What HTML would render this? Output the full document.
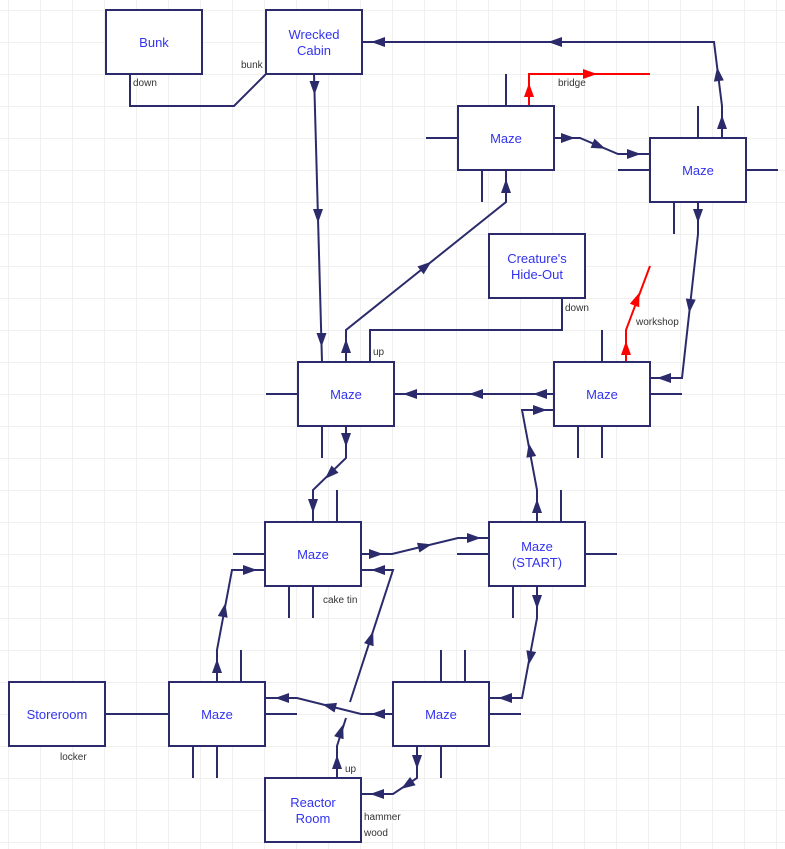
<!DOCTYPE html><html><head><meta charset="utf-8"><style>
body{margin:0;background:#fff}
svg{display:block}
text{font-family:"Liberation Sans",Arial,sans-serif}
.t{fill:#3333ee;font-size:13px;text-anchor:middle}
.s{fill:#333;font-size:10px}
</style></head><body>
<svg id="g" width="785" height="849" xmlns="http://www.w3.org/2000/svg"></svg>
<script>
const g=document.getElementById('g');let h='';
for(let x=8;x<785;x+=32)h+=`<line x1="${x+.5}" y1="0" x2="${x+.5}" y2="849" stroke="#f0f0f0"/>`;
for(let y=10;y<849;y+=32)h+=`<line x1="0" y1="${y+.5}" x2="785" y2="${y+.5}" stroke="#f0f0f0"/>`;
const C='#2b2b6b',R='#ff0000';
function pl(p,c){h+=`<polyline points="${p.map(a=>a.join(',')).join(' ')}" fill="none" stroke="${c||C}" stroke-width="2"/>`}
function ar(x,y,dx,dy,c){const l=Math.hypot(dx,dy);dx/=l;dy/=l;const nx=-dy,ny=dx,L=14,W=5;
h+=`<polygon points="${x+dx*L/2},${y+dy*L/2} ${x-dx*L/2+nx*W},${y-dy*L/2+ny*W} ${x-dx*L/2-nx*W},${y-dy*L/2-ny*W}" fill="${c||C}"/>`}
function box(x,y,lines){h+=`<rect x="${x}" y="${y}" width="96" height="64" fill="#fff" stroke="${C}" stroke-width="2"/>`;
const n=lines.length;lines.forEach((t,i)=>{h+=`<text class="t" x="${x+48}" y="${y+37-(n-1)*8+i*16}">${t}</text>`})}
function tx(x,y,t){h+=`<text class="s" x="${x}" y="${y}">${t}</text>`}
[[426,138,458,138],[506,74,506,106],[482,170,482,202],[618,170,650,170],[746,170,778,170],[698,106,698,138],[674,202,674,234],
[266,394,298,394],[322,426,322,458],[602,330,602,362],[650,394,682,394],[578,426,578,458],[602,426,602,458],
[233,554,265,554],[337,490,337,522],[289,586,289,618],[313,586,313,618],[457,554,489,554],[585,554,617,554],[561,490,561,522],[513,586,513,618],
[265,714,297,714],[241,650,241,682],[193,746,193,778],[217,746,217,778],[489,714,521,714],[441,650,441,682],[465,650,465,682],[441,746,441,778],[105,714,169,714]
].forEach(a=>pl([[a[0],a[1]],[a[2],a[3]]]));
pl([[266,74],[234,106],[130,106],[130,74]]);
pl([[314,74],[322,362]]);ar(314.5,88,0,1);ar(318,216,0,1);ar(321.5,340,0,1);
pl([[722,138],[722,106],[714,42],[362,42]]);ar(722,122,0,-1);ar(718,74,-1,-8);ar(555,42,-1,0);ar(378,42,-1,0);
pl([[554,138],[580,138],[618,154],[650,154]]);ar(568,138,1,0);ar(599,146,38,16);ar(634,154,1,0);
pl([[529,106],[529,74],[650,74]],R);ar(529,90,0,-1,R);ar(590,74,1,0,R);
pl([[346,362],[346,330],[506,202],[506,170]]);ar(346,346,0,-1);ar(426,266,160,-128);ar(506,186,0,-1);
pl([[562,298],[562,330],[370,330],[370,362]]);
pl([[698,202],[698,234],[682,378],[650,378]]);ar(698,216,0,1);ar(690,306,-16,144);ar(664,378,-1,0);
pl([[626,362],[626,330],[650,266]],R);ar(626,348,0,-1,R);ar(637,299,24,-64,R);
pl([[554,394],[394,394]]);ar(540,394,-1,0);ar(476,394,-1,0);ar(410,394,-1,0);
pl([[537,522],[537,490],[522,410],[554,410]]);ar(537,506,0,-1);ar(530,450,-15,-80);ar(540,410,1,0);
pl([[346,426],[346,458],[313,490],[313,522]]);ar(346,440,0,1);ar(330,474,-33,32);ar(313,506,0,1);
pl([[361,554],[392,554],[458,538],[489,538]]);ar(376,554,1,0);ar(425,546,66,-16);ar(474,538,1,0);
pl([[217,682],[217,650],[232,570],[265,570]]);ar(217,666,0,-1);ar(224,610,15,-80);ar(250,570,1,0);
pl([[337,778],[337,746],[346,718]]);pl([[350,702],[393,570],[361,570]]);ar(337,762,0,-1);ar(341,731,9,-28);ar(371,638,43,-132);ar(378,570,-1,0);
pl([[393,714],[361,714],[297,698],[265,698]]);ar(378,714,-1,0);ar(329,706,-64,-16);ar(282,698,-1,0);
pl([[537,586],[537,618],[522,698],[489,698]]);ar(537,602,0,1);ar(530,658,-15,80);ar(505,698,-1,0);
pl([[417,746],[417,778],[393,794],[361,794]]);ar(417,762,0,1);ar(407,785,-24,16);ar(377,794,-1,0);
box(106,10,['Bunk']);box(266,10,['Wrecked','Cabin']);box(458,106,['Maze']);box(650,138,['Maze']);
box(489,234,["Creature's",'Hide-Out']);box(298,362,['Maze']);box(554,362,['Maze']);
box(265,522,['Maze']);box(489,522,['Maze','(START)']);box(9,682,['Storeroom']);box(169,682,['Maze']);box(393,682,['Maze']);box(265,778,['Reactor','Room']);
tx(241,68,'bunk');tx(133,86,'down');tx(558,86,'bridge');tx(565,311,'down');tx(373,355,'up');tx(636,325,'workshop');
tx(323,603,'cake tin');tx(60,760,'locker');tx(345,772,'up');tx(364,820,'hammer');tx(364,836,'wood');
g.innerHTML=h;
</script></body></html>
